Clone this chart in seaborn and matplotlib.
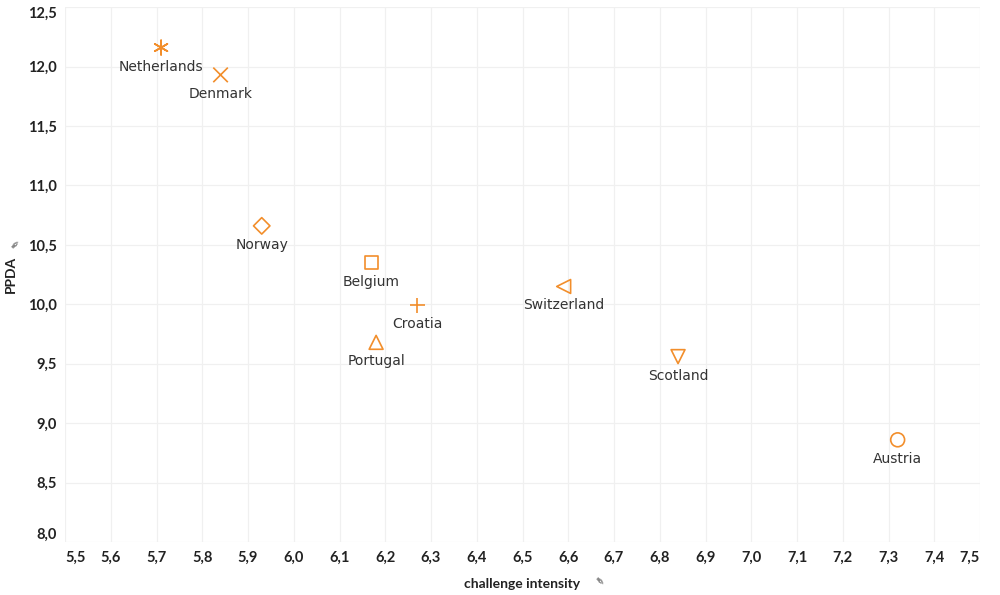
import matplotlib
matplotlib.use("Agg")
import matplotlib.pyplot as plt
import matplotlib.ticker as ticker
from matplotlib.markers import MarkerStyle
import seaborn as sns
import numpy as np
import pandas as pd

# values
countries = ['Netherlands', 'Denmark', 'Norway', 'Belgium', 'Croatia',
             'Portugal', 'Switzerland', 'Scotland', 'Austria']
challenge_intensity = [5.71, 5.84, 5.93, 6.17, 6.27, 6.18, 6.59, 6.84, 7.32]
ppda = [12.16, 11.93, 10.66, 10.35, 9.99, 9.68, 10.15, 9.56, 8.86]
marker_shapes = [(6, 2, 0), 'x', 'D', 's', '+', '^', '<', 'v', 'o']
marker_sizes = [110, 110, 70, 90, 120, 100, 100, 100, 100]

x_ticks = np.round(np.arange(5.5, 7.51, 0.1), 1)
y_ticks = np.arange(8.0, 12.51, 0.5)

data = pd.DataFrame({'country': countries,
                     'challenge intensity': challenge_intensity,
                     'PPDA': ppda})

orange = '#f28e2b'

sns.set_theme(style='white')
plt.rcParams['font.family'] = ['DejaVu Sans']

fig = plt.figure(figsize=(10, 5.95), dpi=100)
ax = fig.add_axes([0.065, 0.089, 0.915, 0.899])

for i, row in data.iterrows():
    sns.scatterplot(data=row.to_frame().T, x='challenge intensity', y='PPDA', ax=ax,
                    marker=MarkerStyle(marker_shapes[i], fillstyle='none'),
                    color=orange, s=marker_sizes[i], linewidth=1.2, legend=False)
    ax.annotate(row['country'], (row['challenge intensity'], row['PPDA']),
                xytext=(0, -19), textcoords='offset pixels',
                ha='center', va='center', fontsize=10, color='#333333')

ax.set_xlim(5.5, 7.5)
ax.set_ylim(8.0, 12.5)
ax.set_xticks(x_ticks)
ax.set_yticks(y_ticks)
comma = ticker.FuncFormatter(lambda v, p: f'{v:.1f}'.replace('.', ','))
ax.xaxis.set_major_formatter(comma)
ax.yaxis.set_major_formatter(comma)

ax.grid(True, color='#f0f0f0', linewidth=0.9)
ax.set_axisbelow(True)
for sp in ax.spines.values():
    sp.set_visible(False)

ax.tick_params(axis='both', length=0, labelsize=10.5, colors='#222222', pad=6)
for lab in ax.get_xticklabels() + ax.get_yticklabels():
    lab.set_fontfamily('Lato')
    lab.set_fontweight('bold')
xl = ax.get_xticklabels()
xl[0].set_ha('left')
xl[-1].set_ha('right')
yl = ax.get_yticklabels()
yl[0].set_va('bottom')
yl[-1].set_va('top')

ax.set_xlabel('challenge intensity', fontsize=10, fontweight='bold',
              fontfamily='Lato', color='#222222', labelpad=10)
ax.set_ylabel('PPDA', fontsize=10, fontweight='bold',
              fontfamily='Lato', color='#222222', labelpad=8)

# small pin icons next to the axis titles
fig.text(0.597, 0.022, '✒', fontsize=9, color='#888888', ha='center', va='center', rotation=-45)
fig.text(0.016, 0.587, '✒', fontsize=9, color='#888888', ha='center', va='center', rotation=45)

fig.savefig('out.png', dpi=100)
